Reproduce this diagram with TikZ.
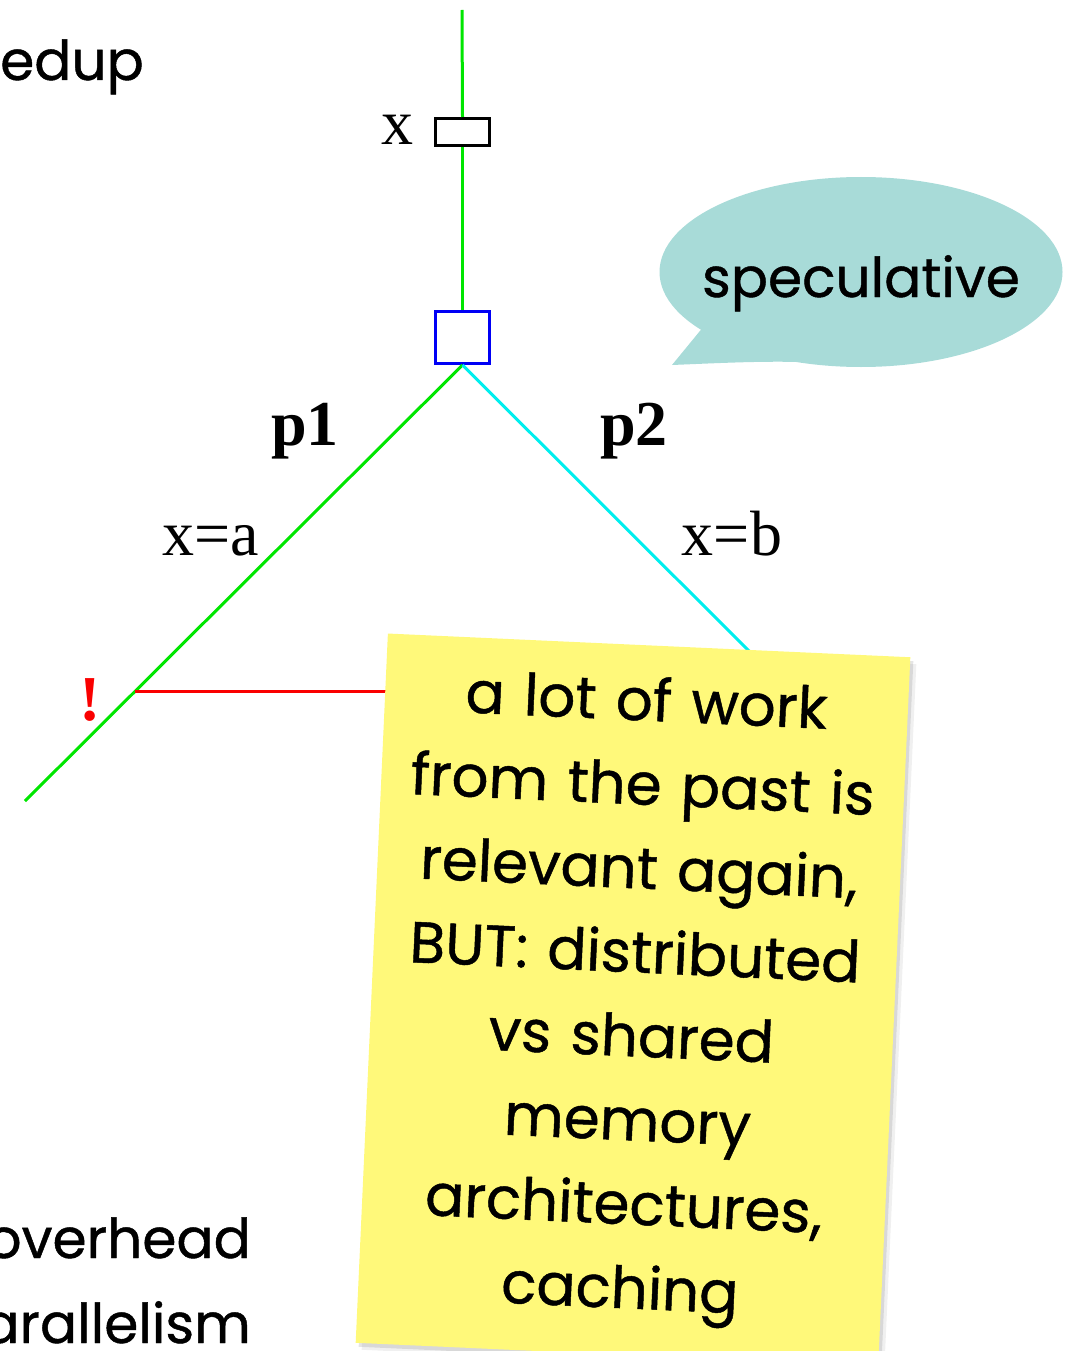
\documentclass[tikz,border=0pt]{standalone}
\usepackage{fontspec}
\setmainfont{Liberation Serif}
\newfontfamily\notefont[FakeBold=0.8]{Poppins}
\usetikzlibrary{shapes.geometric}

\definecolor{notebg}{RGB}{255,249,122}
\definecolor{bubblebg}{RGB}{168,219,216}
\definecolor{brgreen}{RGB}{0,230,0}
\definecolor{brcyan}{RGB}{0,238,238}
\definecolor{brblue}{RGB}{0,0,245}
\definecolor{brred}{RGB}{250,0,0}

\tikzset{
  branch/.style={line width=3pt},
  seriflabel/.style={anchor=base, inner sep=0pt, font=\fontsize{64}{64}\selectfont},
  sanstext/.style={inner sep=0pt, font=\notefont\fontsize{55}{55}\selectfont},
  notecard/.style={rotate=-2.6, minimum width=523pt, minimum height=710pt,
    inner sep=0pt, text width=510pt, align=center,
    font=\notefont\fontsize{58}{84}\selectfont},
}

\begin{document}
\begin{tikzpicture}[x=1pt,y=-1pt]
\useasboundingbox (0,0) rectangle (1072,1351);
\clip (0,0) rectangle (1072,1351);

% slide text running off the left edge
\node[sanstext, anchor=base west] (speedup) at (0,80) {edup};
\node[sanstext, anchor=base east] (overhead) at (251,1258) {overhead};
\node[sanstext, anchor=base east] (parallel) at (251,1343) {arallelism};

% fork: shared variable x, then two speculative branches
\coordinate (top) at (462,10);
\node[draw=black, fill=white, line width=3pt, minimum width=54pt,
      minimum height=27pt, inner sep=0pt] (xbox) at (462.5,132) {};
\node[draw=brblue, fill=white, line width=3pt, minimum width=54pt,
      minimum height=52pt, inner sep=0pt] (fork) at (462.5,337.5) {};
\coordinate (leftend) at (25,801);
\coordinate (rightend) at (752,654);
\coordinate (hit) at (135,691);
\coordinate (redend) at (400,691);

\draw[branch, brgreen] (top) -- (xbox.north);
\draw[branch, brgreen] (xbox.south) -- (fork.north);
\draw[branch, brgreen] (fork.south) -- (leftend);
\draw[branch, brcyan] (fork.south) -- (rightend);
\draw[branch, brred] (hit) -- (redend);

\node[seriflabel] (xlabel) at (397,145) {x};
\node[seriflabel, font=\bfseries\fontsize{64}{64}\selectfont] (p1) at (305,445) {p1};
\node[seriflabel, font=\bfseries\fontsize{64}{64}\selectfont] (p2) at (634,445) {p2};
\node[seriflabel] (xa) at (211,555) {x=a};
\node[seriflabel] (xb) at (732,555) {x=b};
\node[seriflabel, text=brred, font=\bfseries\fontsize{64}{64}\selectfont] (bang) at (90,720) {!};

% speech bubble
\fill[bubblebg] (704,326) -- (672,365) .. controls (720,363) and (760,361) .. (800,362)
  -- (820,300) -- cycle;
\node[ellipse, fill=bubblebg, minimum width=403pt, minimum height=190pt,
      inner sep=0pt] (bubble) at (861,272) {};
\node[sanstext, anchor=base] (spec) at (861,297) {speculative};

% sticky note with a soft shadow
\node[notecard, fill=black, opacity=0.06] (shadowb) at (639,1007) {};
\node[notecard, fill=black, opacity=0.10] (shadowa) at (636,1004) {};
\node[notecard, fill=notebg] (note) at (633,1000)
  {a lot of work\\ from the past is\\ relevant again,\\ BUT: distributed\\ vs shared\\ memory\\ architectures,\\ caching};
\end{tikzpicture}
\end{document}
